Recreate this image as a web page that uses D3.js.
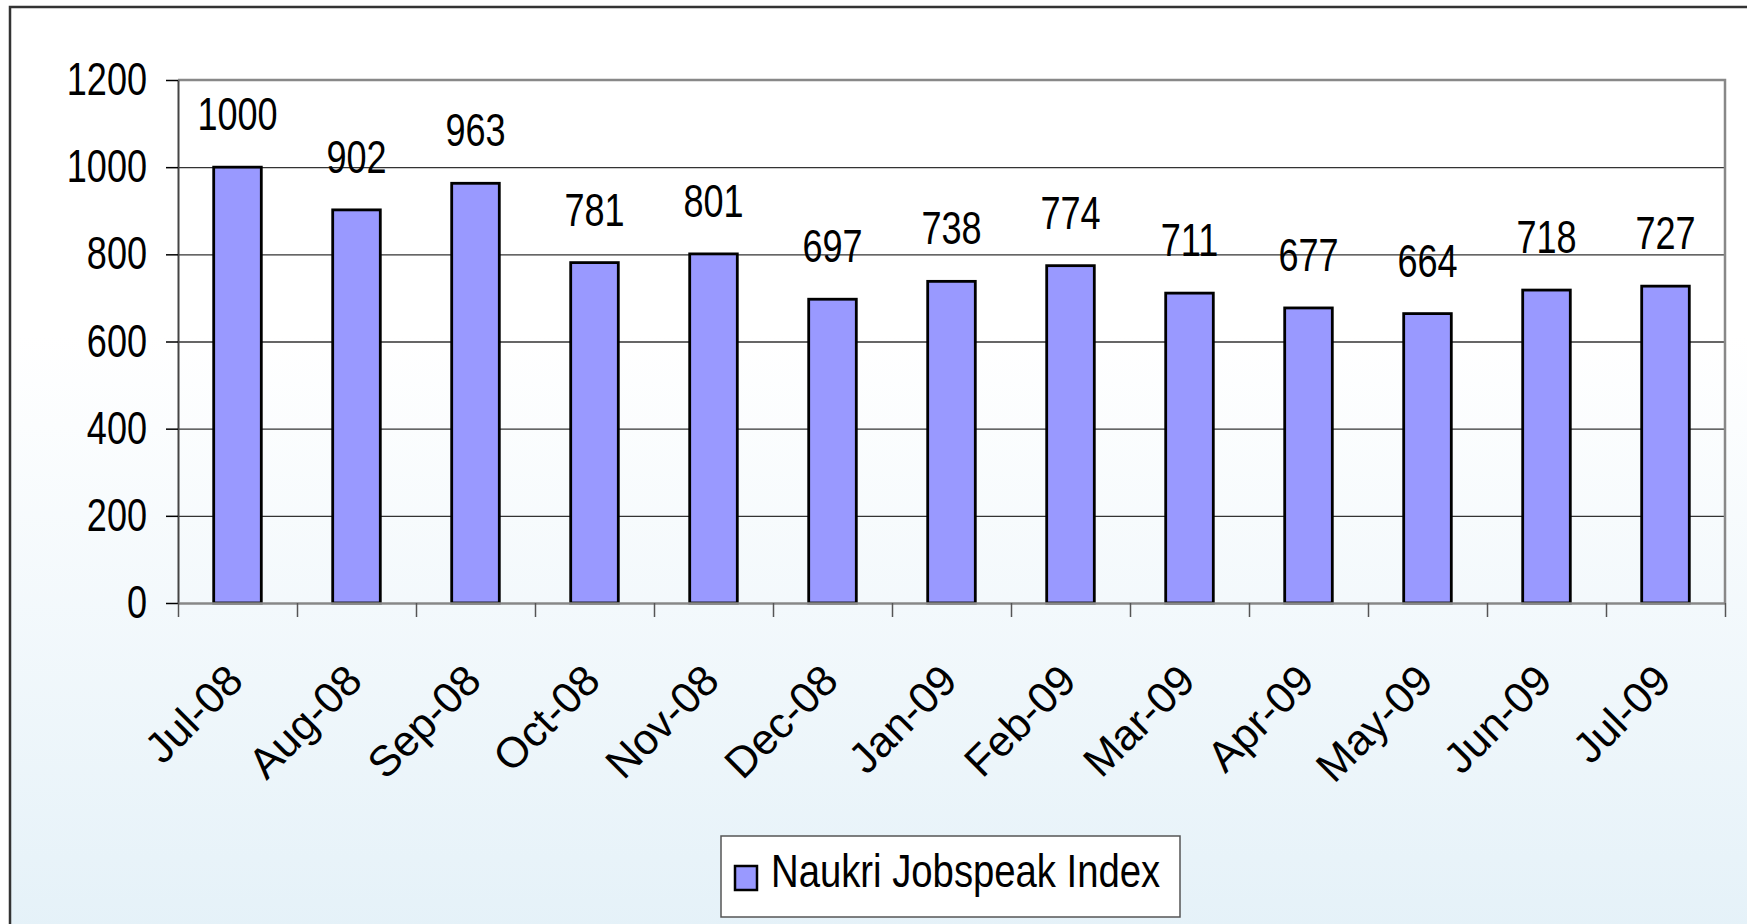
<!DOCTYPE html>
<html>
<head>
  <meta charset="utf-8">
  <script src="https://cdn.jsdelivr.net/npm/d3@7/dist/d3.min.js"></script>
  <style>
    body { margin: 0; background: #ffffff; }
    svg text { font-family: "Liberation Sans", Arial, sans-serif; fill: #000; }
  </style>
</head>
<body>
<div id="chart"></div>
<script>
  // month labels and index values
  var months = ["Jul-08", "Aug-08", "Sep-08", "Oct-08", "Nov-08", "Dec-08", "Jan-09",
                "Feb-09", "Mar-09", "Apr-09", "May-09", "Jun-09", "Jul-09"];
  var jobspeak = [1000, 902, 963, 781, 801, 697, 738, 774, 711, 677, 664, 718, 727];
  var yTicks = [0, 200, 400, 600, 800, 1000, 1200];
  var seriesName = "Naukri Jobspeak Index";

  var width = 1747, height = 924;
  var plotL = 178, plotR = 1725, plotT = 80, plotB = 603;

  var svg = d3.select("#chart").append("svg")
    .attr("width", width)
    .attr("height", height);

  // no narrow font installed, so squeeze the normal one sideways
  function narrowText(parent, px, py, str, anchor, size, sx) {
    var g = parent.append("g").attr("transform", "translate(" + px + "," + py + ")");
    g.append("text")
      .attr("transform", "scale(" + (sx || 0.82) + ",1.05)")
      .attr("text-anchor", anchor)
      .attr("font-size", size)
      .text(str);
    return g;
  }

  // background gradient of the whole chart
  var grad = svg.append("defs").append("linearGradient")
    .attr("id", "bg").attr("x1", 0).attr("y1", 0).attr("x2", 0).attr("y2", 1);
  grad.append("stop").attr("offset", "0%").attr("stop-color", "#ffffff");
  grad.append("stop").attr("offset", "35%").attr("stop-color", "#ffffff");
  grad.append("stop").attr("offset", "100%").attr("stop-color", "#e4f1f8");

  svg.append("rect")
    .attr("x", 10).attr("y", 7).attr("width", 1760).attr("height", 940)
    .attr("fill", "url(#bg)")
    .attr("stroke", "#333").attr("stroke-width", 2.5);

  var x = d3.scaleBand().domain(months).range([plotL, plotR])
    .paddingInner(0.6).paddingOuter(0.3);
  var xEdge = d3.scaleLinear().domain([0, months.length]).range([plotL, plotR]);
  var y = d3.scaleLinear().domain([0, 1200]).range([plotB, plotT]);

  // gridlines
  svg.append("g")
    .attr("transform", "translate(" + plotL + ",0)")
    .call(d3.axisLeft(y).tickValues(yTicks.slice(1, -1)).tickSize(-(plotR - plotL)).tickFormat(""))
    .call(function(g) {
      g.select(".domain").remove();
      g.selectAll("line").attr("stroke", "#333").attr("stroke-width", 1.3);
    });

  // plot frame (top and right)
  svg.append("path")
    .attr("d", "M" + plotL + "," + plotT + "H" + plotR + "V" + plotB)
    .attr("fill", "none").attr("stroke", "#888").attr("stroke-width", 2.5);

  // bars
  svg.selectAll("rect.bar").data(jobspeak).enter().append("rect")
    .attr("class", "bar")
    .attr("x", function(d, i) { return x(months[i]); })
    .attr("y", function(d) { return y(d); })
    .attr("width", x.bandwidth())
    .attr("height", function(d) { return y(0) - y(d); })
    .attr("fill", "#9999ff")
    .attr("stroke", "#000").attr("stroke-width", 2.8);

  // value labels
  var vals = svg.append("g");
  jobspeak.forEach(function(d, i) {
    narrowText(vals, x(months[i]) + x.bandwidth() / 2, y(d) - 37, d, "middle", 44);
  });

  // y axis
  var yAxis = svg.append("g")
    .attr("transform", "translate(" + plotL + ",0)")
    .call(d3.axisLeft(y).tickValues(yTicks).tickSize(12).tickFormat("").tickSizeOuter(0));
  yAxis.select(".domain").attr("stroke", "#444").attr("stroke-width", 2);
  yAxis.selectAll("line").attr("stroke", "#000").attr("stroke-width", 1.5);
  var yLab = svg.append("g");
  yTicks.forEach(function(t) {
    narrowText(yLab, plotL - 31, y(t) + 15, t, "end", 44);
  });

  // x axis with ticks at category edges
  var xAxis = svg.append("g")
    .attr("transform", "translate(0," + plotB + ")")
    .call(d3.axisBottom(xEdge).tickValues(d3.range(months.length + 1)).tickSize(14).tickFormat("").tickSizeOuter(0));
  xAxis.select(".domain").attr("stroke", "#888").attr("stroke-width", 2.5);
  xAxis.selectAll("line").attr("stroke", "#555").attr("stroke-width", 1.5);

  svg.selectAll("text.cat").data(months).enter().append("text")
    .attr("class", "cat")
    .attr("transform", function(d) {
      return "translate(" + (x(d) + x.bandwidth() / 2 + 8) + "," + (plotB + 80) + ") rotate(-45)";
    })
    .attr("text-anchor", "end")
    .attr("font-size", 43)
    .text(function(d) { return d; });

  // legend
  var legend = svg.append("g");
  legend.append("rect")
    .attr("x", 721).attr("y", 836).attr("width", 459).attr("height", 81)
    .attr("fill", "#fff").attr("stroke", "#555").attr("stroke-width", 1.5);
  legend.append("rect")
    .attr("x", 735).attr("y", 866).attr("width", 22).attr("height", 24)
    .attr("fill", "#9999ff").attr("stroke", "#000").attr("stroke-width", 2.5);
  narrowText(legend, 771, 887, seriesName, "start", 44, 0.87);
</script>
</body>
</html>
